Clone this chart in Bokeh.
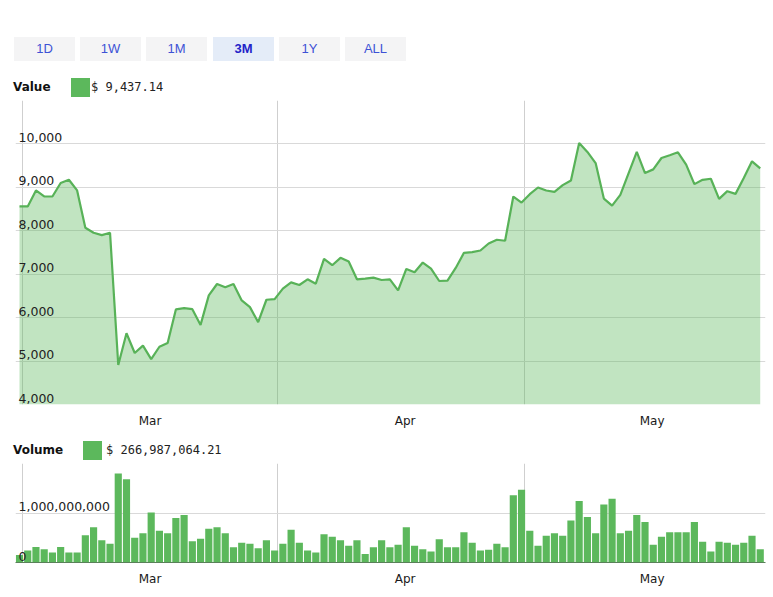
import pandas as pd
from bokeh.plotting import figure
from bokeh.models import ColumnDataSource, Range1d, FixedTicker, DatetimeTickFormatter, LabelSet, Div
from bokeh.layouts import column
from bokeh.core.properties import value
from bokeh.embed import file_html
from bokeh.resources import INLINE

# ---------------- data ----------------
first_point = "2020-02-29 15:20"
price = [8560, 8560, 8930, 8790, 8790, 9100, 9175, 8930, 8070, 7955,
         7900, 7955, 4910, 5640, 5185, 5355, 5046, 5330, 5415, 6190,
         6220, 6195, 5833, 6512, 6775, 6700, 6775, 6397, 6242, 5895,
         6412, 6427, 6667, 6813, 6752, 6883, 6782, 7353, 7207, 7377,
         7292, 6883, 6898, 6921, 6867, 6883, 6628, 7122, 7045, 7269,
         7130, 6844, 6852, 7145, 7492, 7508, 7546, 7708, 7793, 7770,
         8789, 8650, 8843, 8997, 8927, 8897, 9051, 9159, 10023, 9815,
         9560, 8742, 8580, 8827, 9321, 9815, 9329, 9414, 9676, 9738,
         9807, 9522, 9074, 9174, 9198, 8735, 8912, 8850, 9213, 9599,
         9437.14]
volume = [1.50e8, 2.40e8, 3.15e8, 2.70e8, 2.00e8, 3.15e8, 2.00e8, 2.00e8, 5.50e8, 7.10e8,
          4.50e8, 3.80e8, 1.80e9, 1.68e9, 5.00e8, 5.90e8, 1.01e9, 6.40e8, 5.90e8, 9.00e8,
          9.60e8, 4.30e8, 4.80e8, 6.80e8, 7.10e8, 5.90e8, 3.10e8, 4.00e8, 3.80e8, 2.90e8,
          4.50e8, 2.40e8, 3.80e8, 6.60e8, 4.00e8, 2.40e8, 2.00e8, 5.70e8, 5.20e8, 4.50e8,
          3.40e8, 4.50e8, 1.70e8, 3.10e8, 4.50e8, 3.10e8, 3.60e8, 7.10e8, 3.40e8, 2.70e8,
          2.20e8, 4.70e8, 3.10e8, 3.10e8, 6.10e8, 4.00e8, 2.40e8, 2.60e8, 3.80e8, 3.10e8,
          1.36e9, 1.47e9, 6.40e8, 3.40e8, 5.40e8, 5.90e8, 5.40e8, 8.50e8, 1.24e9, 9.20e8,
          5.90e8, 1.17e9, 1.29e9, 5.90e8, 6.40e8, 9.60e8, 8.20e8, 3.60e8, 5.20e8, 6.10e8,
          6.10e8, 6.10e8, 8.20e8, 4.20e8, 2.20e8, 4.20e8, 4.00e8, 3.60e8, 4.00e8, 5.40e8,
          266987064.21]
price_ticks = [4000, 5000, 6000, 7000, 8000, 9000, 10000, 11000]
price_tick_labels = ["4,000", "5,000", "6,000", "7,000", "8,000", "9,000", "10,000"]
volume_ticks = [0, 1e9, 2e9]
volume_tick_labels = ["0", "1,000,000,000"]
month_starts = ["2020-03-01", "2020-04-01", "2020-05-01"]
month_labels = ["Mar", "Apr", "May"]
range_buttons = ["1D", "1W", "1M", "3M", "1Y", "ALL"]
selected_range = "3M"
value_text = "$ 9,437.14"
volume_text = "$ 266,987,064.21"

GREEN = "#5cb85c"
DAY = pd.Timedelta(days=1)
W = 773


def ms(t):
    return pd.Timestamp(t).value / 1e6


dates = pd.date_range(first_point, periods=len(price), freq="D")
src = ColumnDataSource(dict(x=dates, price=price, volume=volume))

t0 = pd.Timestamp(first_point)
x_start = ms(t0 - 0.486 * DAY)
x_end = ms(t0 + 90.64 * DAY)
grid_ms = [ms(m) for m in month_starts]
label_ms = [ms(pd.Timestamp(m) + 15.5 * DAY) for m in month_starts]

fmt = DatetimeTickFormatter(microseconds="%b", milliseconds="%b", seconds="%b", minsec="%b",
                            minutes="%b", hourmin="%b", hours="%b", days="%b", months="%b",
                            years="%b")


def style(p, yticks):
    p.outline_line_color = None
    p.background_fill_color = "white"
    p.border_fill_color = "white"
    p.xgrid.ticker = FixedTicker(ticks=grid_ms)
    p.xgrid.grid_line_color = "#cfcfcf"
    p.ygrid.ticker = FixedTicker(ticks=yticks)
    p.ygrid.grid_line_color = "#d9d9d9"
    ax = p.xaxis[0]
    ax.ticker = FixedTicker(ticks=label_ms)
    ax.formatter = fmt
    ax.axis_line_color = None
    ax.major_tick_line_color = None
    ax.minor_tick_line_color = None
    ax.major_tick_in = 0
    ax.major_tick_out = 0
    ax.minor_tick_in = 0
    ax.minor_tick_out = 0
    ax.major_label_standoff = 9
    ax.major_label_text_font = "DejaVu Sans"
    ax.major_label_text_font_size = "12px"
    ax.major_label_text_color = "#1a1a1a"


def tick_labels(fig, ticks, labels):
    s = ColumnDataSource(dict(x=[x_start] * len(labels), y=ticks[:len(labels)], text=labels))
    fig.add_layout(LabelSet(x="x", y="y", text="text", source=s, x_offset=3, y_offset=2,
                            text_font=value("DejaVu Sans"), text_font_size=value("12.5px"),
                            text_color="#222222", text_align=value("left"),
                            text_baseline=value("alphabetic")))


# ---------------- price ----------------
p = figure(width=W, height=335, x_axis_type="datetime",
           x_range=Range1d(x_start, x_end), y_range=Range1d(price_ticks[0], price_ticks[-1]),
           y_axis_location=None, toolbar_location=None, output_backend="svg",
           min_border_left=15, min_border_right=8, min_border_top=2, min_border_bottom=29)
style(p, price_ticks)
p.varea(x="x", y1=price_ticks[0], y2="price", source=src, fill_color=GREEN, fill_alpha=0.38)
p.line(x="x", y="price", source=src, line_color="#58b258", line_width=2.2)
tick_labels(p, price_ticks, price_tick_labels)

# ---------------- volume ----------------
v = figure(width=W, height=128, x_axis_type="datetime",
           x_range=p.x_range, y_range=Range1d(volume_ticks[0], volume_ticks[-1]),
           y_axis_location=None, toolbar_location=None, output_backend="svg",
           min_border_left=15, min_border_right=8, min_border_top=2, min_border_bottom=27)
style(v, volume_ticks)
v.xaxis.axis_line_color = "#5a805a"
v.vbar(x="x", top="volume", width=0.87 * 86400000, source=src, fill_color=GREEN, line_color=None)
tick_labels(v, volume_ticks, volume_tick_labels)

# ---------------- header divs ----------------
btns = []
for i, r in enumerate(range_buttons):
    sel = r == selected_range
    left = 14 + round(66.2 * i)
    btns.append(
        f'<div style="position:absolute;left:{left}px;top:37px;width:61px;height:24px;'
        f'line-height:24px;text-align:center;background:{"#e4ecf8" if sel else "#f4f4f5"};'
        f'color:{"#2323c8" if sel else "#3d52d5"};font-weight:{"bold" if sel else "normal"};'
        f'font-family:\'Liberation Sans\',Arial,sans-serif;font-size:13px;">{r}</div>')


def header(label, text, top, sw_left, txt_left):
    return (
        f'<div style="position:absolute;left:13px;top:{top}px;height:19px;line-height:19px;'
        f'font-family:\'DejaVu Sans\';font-weight:bold;font-size:12px;color:#111;">{label}</div>'
        f'<div style="position:absolute;left:{sw_left}px;top:{top}px;width:19px;height:19px;'
        f'background:{GREEN};"></div>'
        f'<div style="position:absolute;left:{txt_left}px;top:{top}px;height:19px;line-height:19px;'
        f'font-family:\'DejaVu Sans Mono\';font-size:12px;color:#222;white-space:nowrap;">{text}</div>')


div1 = Div(text=f'<div style="position:relative;width:{W}px;height:98px;">' + "".join(btns)
           + header("Value", value_text, 78, 71, 91) + "</div>",
           width=W, height=98, margin=0)
div2 = Div(text=f'<div style="position:relative;width:{W}px;height:28px;">'
           + header("Volume", volume_text, 8, 83, 106) + "</div>",
           width=W, height=28, margin=0)

layout = column(div1, p, div2, v, spacing=0)
open("out.html", "w").write(file_html(layout, INLINE))
